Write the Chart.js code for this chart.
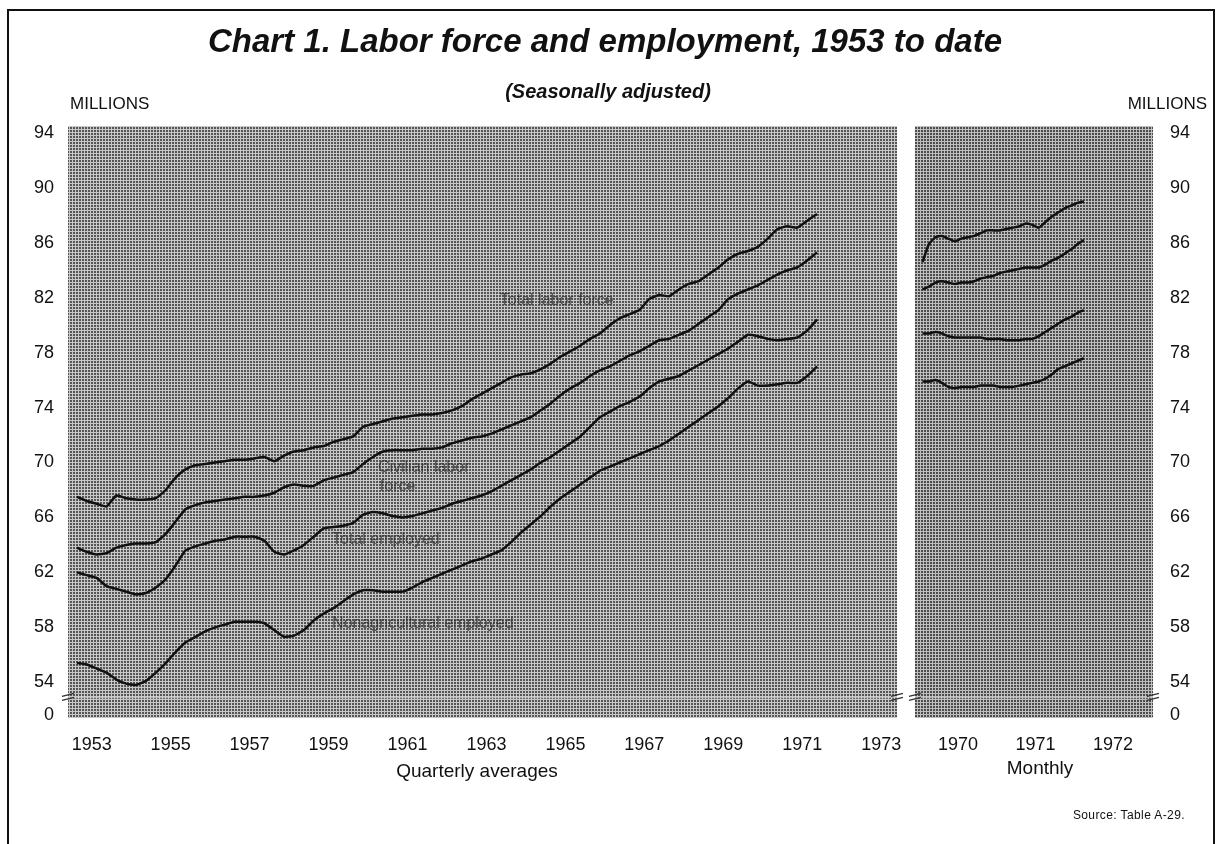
<!DOCTYPE html>
<html><head><meta charset="utf-8">
<script src="https://cdn.jsdelivr.net/npm/chart.js@4.4.1/dist/chart.umd.min.js"></script>
<style>
html,body{margin:0;padding:0;background:#fff;}
body{width:1217px;height:844px;position:relative;overflow:hidden;font-family:'Liberation Sans',Arial,sans-serif;color:#111;}
.frame{position:absolute;left:7px;top:9px;width:1204px;height:900px;border:2px solid #111;border-bottom:none;}
.t{position:absolute;white-space:nowrap;line-height:1;}
.c{transform:translate(-50%,-50%);}
.l{transform:translate(0,-50%);}
.r{transform:translate(-100%,-50%);}
#w1{position:absolute;left:0;top:0;width:910px;height:800px;}
#w2{position:absolute;left:905px;top:0;width:312px;height:800px;}
</style></head>
<body>
<div class="frame"></div>
<div id="w1"><canvas id="c1"></canvas></div>
<div id="w2"><canvas id="c2"></canvas></div>
<div class="t c" style="left:605px;top:40px;font-size:33px;font-weight:bold;font-style:italic;">Chart 1. Labor force and employment, 1953 to date</div>
<div class="t c" style="left:608px;top:91px;font-size:20px;font-weight:bold;font-style:italic;">(Seasonally adjusted)</div>
<div class="t l" style="left:70px;top:103px;font-size:17px;">MILLIONS</div>
<div class="t r" style="left:1207px;top:103px;font-size:17px;">MILLIONS</div>
<div class="t c" style="left:477px;top:770px;font-size:19px;">Quarterly averages</div>
<div class="t c" style="left:1040px;top:767px;font-size:19px;">Monthly</div>
<div class="t r" style="left:1185px;top:815px;font-size:12px;letter-spacing:0.4px;">Source: Table A-29.</div>
<script>
// ---- Data (millions, seasonally adjusted) ----
const quarterStartYear = 1953;   // quarterly averages, 1953 Q1 .. 1971 Q4
const totalLaborForceQ = [67.5,67.2,67.0,66.8,67.6,67.4,67.3,67.3,67.4,68.0,
  68.9,69.5,69.8,69.9,70.0,70.1,70.2,70.2,70.3,70.4,
  70.1,70.5,70.8,70.9,71.1,71.2,71.5,71.7,71.9,72.6,
  72.8,73.0,73.2,73.3,73.4,73.5,73.5,73.6,73.8,74.1,
  74.6,75.0,75.4,75.8,76.2,76.4,76.5,76.8,77.2,77.7,
  78.1,78.5,79.0,79.4,80.0,80.5,80.8,81.1,81.9,82.2,
  82.1,82.6,83.0,83.2,83.7,84.2,84.8,85.2,85.4,85.7,
  86.3,87.0,87.2,87.1,87.6,88.1];
const civilianLaborForceQ = [63.8,63.5,63.3,63.4,63.8,64.0,64.1,64.1,64.2,64.8,
  65.7,66.6,66.9,67.1,67.2,67.3,67.4,67.5,67.5,67.6,
  67.8,68.2,68.4,68.3,68.3,68.7,68.9,69.1,69.3,69.9,
  70.4,70.8,70.9,70.9,70.9,71.0,71.0,71.1,71.4,71.6,
  71.8,71.9,72.1,72.4,72.7,73.0,73.3,73.8,74.3,74.9,
  75.4,75.8,76.3,76.7,77.0,77.4,77.8,78.1,78.5,78.9,
  79.0,79.3,79.6,80.1,80.6,81.1,81.9,82.3,82.6,82.9,
  83.3,83.7,84.0,84.2,84.7,85.3];
const totalEmployedQ = [62.0,61.8,61.6,61.0,60.8,60.6,60.4,60.5,60.9,61.5,
  62.5,63.6,63.9,64.1,64.3,64.4,64.6,64.6,64.6,64.3,
  63.5,63.3,63.6,64.0,64.6,65.2,65.3,65.4,65.6,66.2,
  66.4,66.3,66.1,66.0,66.1,66.3,66.5,66.7,67.0,67.2,
  67.4,67.6,67.9,68.3,68.7,69.1,69.5,70.0,70.4,70.9,
  71.4,71.9,72.6,73.3,73.7,74.1,74.4,74.8,75.4,75.9,
  76.1,76.3,76.7,77.1,77.5,77.9,78.3,78.8,79.3,79.2,
  79.0,78.9,79.0,79.1,79.6,80.4];
const nonagEmployedQ = [55.4,55.3,55.0,54.7,54.2,53.9,53.8,54.1,54.7,55.4,
  56.2,56.9,57.3,57.7,58.0,58.2,58.4,58.4,58.4,58.3,
  57.8,57.3,57.4,57.8,58.5,59.0,59.4,59.9,60.4,60.7,
  60.7,60.6,60.6,60.6,60.9,61.3,61.6,61.9,62.2,62.5,
  62.8,63.0,63.3,63.6,64.2,64.9,65.5,66.1,66.8,67.4,
  67.9,68.4,68.9,69.4,69.7,70.0,70.3,70.6,70.9,71.2,
  71.6,72.1,72.6,73.1,73.6,74.1,74.7,75.4,75.9,75.6,
  75.6,75.7,75.8,75.8,76.3,77.0];

const monthStartYear = 1970;     // monthly, Jan 1970 .. Feb 1972
const totalLaborForceM = [84.6,85.9,86.4,86.5,86.3,86.1,86.3,86.4,86.5,86.7,86.9,86.9,
  86.9,87.0,87.1,87.2,87.4,87.3,87.1,87.5,87.9,88.2,88.5,88.7,88.9,89.0];
const civilianLaborForceM = [82.6,82.8,83.1,83.2,83.1,83.0,83.1,83.1,83.2,83.4,83.5,83.6,
  83.8,83.9,84.0,84.1,84.2,84.2,84.2,84.4,84.7,84.9,85.2,85.5,85.9,86.2];
const totalEmployedM = [79.4,79.4,79.5,79.4,79.2,79.1,79.1,79.1,79.1,79.1,79.0,79.0,
  79.0,78.9,78.9,78.9,79.0,79.0,79.2,79.5,79.8,80.1,80.4,80.6,80.9,81.1];
const nonagEmployedM = [75.9,75.9,76.0,75.8,75.5,75.4,75.5,75.5,75.5,75.6,75.6,75.6,
  75.5,75.5,75.5,75.6,75.7,75.8,75.9,76.1,76.4,76.8,77.0,77.2,77.4,77.6];

const yTickValues = [54,58,62,66,70,74,78,82,86,90,94];
const xTickYearsQuarterly = [1953,1955,1957,1959,1961,1963,1965,1967,1969,1971,1973];
const xTickYearsMonthly = [1970,1971,1972];

const seriesLabels = [
  {text:'Total labor force', x:1963.84, y:81.76},
  {text:'Civilian labor', x:1960.75, y:69.66},
  {text:'force', x:1960.80, y:68.28},
  {text:'Total employed', x:1959.59, y:64.42},
  {text:'Nonagricultural employed', x:1959.59, y:58.30}
];

// ---- Scale configuration ----
const Y_MIN = 51.4, Y_MAX = 94.5, ZERO_AT = 51.6, BREAK_AT = 52.9;
const FONT = "'Liberation Sans',Arial,sans-serif";

function qPoints(arr){ return arr.map((v,i)=>({x: quarterStartYear + (i+0.5)/4, y:v})); }
function mPoints(arr){ return arr.map((v,i)=>({x: monthStartYear + (i+0.5)/12, y:v})); }

function makePattern(light, dark){
  const c=document.createElement('canvas'); c.width=3; c.height=3;
  const g=c.getContext('2d');
  g.fillStyle=dark; g.fillRect(0,0,3,3);
  g.fillStyle=light; g.fillRect(0,0,3,1); g.fillRect(0,0,1,3);
  return c;
}

function lineDs(data){
  return {data, borderColor:'#111', borderWidth:2.5, pointRadius:0, tension:0.15, fill:false};
}

const panelPlugin = {
  id:'panel',
  beforeDraw(chart, args, opts){
    const {ctx, chartArea:a} = chart;
    ctx.save();
    ctx.fillStyle = ctx.createPattern(makePattern(opts.light, opts.dark),'repeat');
    ctx.fillRect(a.left, a.top, a.right-a.left, a.bottom-a.top);
    ctx.restore();
  },
  afterDatasetsDraw(chart, args, opts){
    const {ctx, chartArea:a, scales} = chart;
    const yb = scales.y.getPixelForValue(BREAK_AT);
    ctx.save();
    ctx.strokeStyle='rgba(225,225,225,0.6)'; ctx.lineWidth=1.5;
    ctx.beginPath(); ctx.moveTo(a.left, yb); ctx.lineTo(a.right, yb); ctx.stroke();
    ctx.strokeStyle='#333'; ctx.lineWidth=1.3;
    [a.left, a.right].forEach(x0=>{
      ctx.beginPath();
      ctx.moveTo(x0-6, yb-1); ctx.lineTo(x0+6, yb-4);
      ctx.moveTo(x0-6, yb+3); ctx.lineTo(x0+6, yb);
      ctx.stroke();
    });
    if (opts.labels){
      ctx.fillStyle='rgba(45,45,45,0.75)';
      ctx.font = '16px ' + FONT;
      ctx.textBaseline='middle'; ctx.textAlign='left';
      opts.labels.forEach(l=>{
        ctx.fillText(l.text, scales.x.getPixelForValue(l.x), scales.y.getPixelForValue(l.y));
      });
    }
    ctx.restore();
  }
};

function yAxis(position, width, pad){
  return {
    type:'linear', position, min:Y_MIN, max:Y_MAX,
    grid:{display:false, drawTicks:false}, border:{display:false},
    afterFit(s){ s.width = width; s.paddingTop = 0; s.paddingBottom = 0; },
    afterBuildTicks(s){ s.ticks = [{value:ZERO_AT}].concat(yTickValues.map(v=>({value:v}))); },
    ticks:{padding:pad, color:'#111', font:{family:FONT, size:18},
      callback:(v)=> v < 54 ? '0' : String(v)}
  };
}
function xAxis(min, max, years){
  return {
    type:'linear', min, max,
    grid:{display:false, drawTicks:false}, border:{display:false},
    afterFit(s){ s.height = 40; s.paddingLeft = 0; s.paddingRight = 0; },
    afterBuildTicks(s){ s.ticks = years.map(y=>({value:y+0.5})); },
    ticks:{padding:16, color:'#111', autoSkip:false, maxRotation:0, font:{family:FONT, size:18},
      callback:(v)=> String(Math.floor(v))}
  };
}

const common = {
  responsive:true, maintainAspectRatio:false, animation:false,
  plugins:{legend:{display:false}, tooltip:{enabled:false}}
};

new Chart(document.getElementById('c1'), {
  type:'line',
  data:{datasets:[lineDs(qPoints(totalLaborForceQ)), lineDs(qPoints(civilianLaborForceQ)),
    lineDs(qPoints(totalEmployedQ)), lineDs(qPoints(nonagEmployedQ))]},
  options:Object.assign({}, common, {
    layout:{padding:{left:0, right:13, top:126, bottom:42}},
    scales:{x:xAxis(1952.9, 1973.9, xTickYearsQuarterly), y:yAxis('left', 68, 14)},
    plugins:Object.assign({}, common.plugins, {panel:{light:'#c8c8c8', dark:'#555555', labels:seriesLabels}})
  }),
  plugins:[panelPlugin]
});

new Chart(document.getElementById('c2'), {
  type:'line',
  data:{datasets:[lineDs(mPoints(totalLaborForceM)), lineDs(mPoints(civilianLaborForceM)),
    lineDs(mPoints(totalEmployedM)), lineDs(mPoints(nonagEmployedM))]},
  options:Object.assign({}, common, {
    layout:{padding:{left:10, right:0, top:126, bottom:42}},
    scales:{x:xAxis(1969.945, 1973.016, xTickYearsMonthly), y:yAxis('right', 64, 17)},
    plugins:Object.assign({}, common.plugins, {panel:{light:'#bebebe', dark:'#4c4c4c', labels:null}})
  }),
  plugins:[panelPlugin]
});
</script>
</body></html>
